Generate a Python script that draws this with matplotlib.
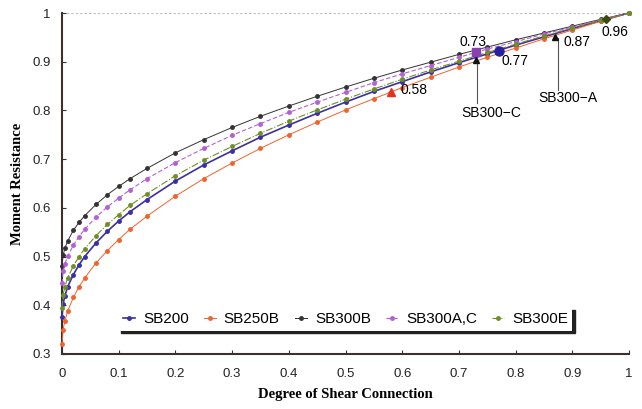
import numpy as np
import matplotlib
matplotlib.use("Agg")
import matplotlib.pyplot as plt

# degree of shear connection (eta) used for every curve
eta = [0, 0.002, 0.005, 0.01, 0.02, 0.03, 0.04, 0.06, 0.08, 0.1, 0.12, 0.15,
       0.2, 0.25, 0.3, 0.35, 0.4, 0.45, 0.5, 0.55, 0.6, 0.65, 0.7, 0.75,
       0.8, 0.85, 0.9, 0.95, 1.0]

# normalised moment resistance for each specimen group
sb200 = [0.375, 0.403, 0.419, 0.438, 0.463, 0.483, 0.500, 0.528, 0.552, 0.573,
         0.592, 0.617, 0.655, 0.688, 0.717, 0.745, 0.770, 0.794, 0.817, 0.839,
         0.859, 0.879, 0.898, 0.916, 0.934, 0.951, 0.968, 0.984, 1.000]
sb250b = [0.320, 0.350, 0.368, 0.388, 0.416, 0.438, 0.456, 0.487, 0.512, 0.535,
          0.556, 0.583, 0.624, 0.660, 0.692, 0.722, 0.750, 0.776, 0.801, 0.824,
          0.847, 0.868, 0.889, 0.909, 0.928, 0.947, 0.965, 0.983, 1.000]
sb300b = [0.480, 0.503, 0.517, 0.532, 0.554, 0.570, 0.584, 0.607, 0.627, 0.644,
          0.660, 0.681, 0.713, 0.740, 0.765, 0.788, 0.809, 0.829, 0.848, 0.866,
          0.883, 0.899, 0.915, 0.930, 0.945, 0.959, 0.973, 0.987, 1.000]
sb300ac = [0.445, 0.470, 0.484, 0.501, 0.523, 0.541, 0.556, 0.581, 0.602, 0.620,
           0.637, 0.660, 0.693, 0.722, 0.749, 0.773, 0.796, 0.817, 0.837, 0.857,
           0.875, 0.892, 0.909, 0.926, 0.941, 0.957, 0.971, 0.986, 1.000]
sb300e = [0.395, 0.422, 0.438, 0.456, 0.481, 0.500, 0.516, 0.543, 0.566, 0.586,
          0.605, 0.629, 0.666, 0.698, 0.726, 0.753, 0.778, 0.801, 0.823, 0.844,
          0.864, 0.883, 0.901, 0.919, 0.936, 0.953, 0.969, 0.985, 1.000]

labels = ["SB200", "SB250B", "SB300B", "SB300A,C", "SB300E"]

# test specimens: actual degree of shear connection and resistance
test_eta = [0.58, 0.73, 0.77, 0.96]
test_m = [0.838, 0.919, 0.923, 0.988]
tri_eta = [0.73, 0.87]
tri_m = [0.903, 0.951]

serif = ["Liberation Serif", "DejaVu Serif"]
sans = ["Liberation Sans", "DejaVu Sans"]
plt.rcParams["font.family"] = sans

fig = plt.figure(figsize=(6.42, 4.09), dpi=100)
ax = fig.add_axes([62 / 642, 1 - 354 / 409, 567 / 642, 341 / 409])

styles = [
    dict(color="#3b2fa6", lw=1.2, ls="-"),
    dict(color="#f2622a", lw=0.7, ls="-"),
    dict(color="#333333", lw=0.7, ls="-"),
    dict(color="#b35fd6", lw=0.8, ls=(0, (4, 2))),
    dict(color="#6f8f22", lw=0.8, ls="-."),
]
for ys, lab, st in zip([sb200, sb250b, sb300b, sb300ac, sb300e], labels, styles):
    ax.plot(eta, ys, marker="o", ms=2.5, mec=st["color"], mfc=st["color"],
            label=lab, clip_on=False, zorder=3, **st)

ax.axhline(1.0, color="#bbbbbb", lw=0.8, ls=(0, (2, 2)), zorder=1)

# specimen markers
ax.plot(test_eta[0], test_m[0], marker="^", ms=5.5, color="#e8301c", ls="none", zorder=5)
ax.plot(test_eta[1], test_m[1], marker="s", ms=5.5, color="#8a40b0", ls="none", zorder=5)
ax.plot(test_eta[2], test_m[2], marker="o", ms=6.5, color="#2a1f9a", ls="none", zorder=5)
ax.plot(test_eta[3], test_m[3], marker="D", ms=4.5, color="#3a4a10", ls="none", zorder=5)
ax.plot(tri_eta, tri_m, marker="^", ms=4.5, color="#111111", ls="none", zorder=6)

# leader lines for the SB300 tags
ax.plot([0.732, 0.732], [0.900, 0.815], color="#555555", lw=0.8, zorder=4)
ax.plot([0.875, 0.875], [0.948, 0.842], color="#555555", lw=0.8, zorder=4)

fs = 10
ax.text(0.621, 0.841, "0.58", fontsize=fs, ha="center", va="center")
ax.text(0.724, 0.940, "0.73", fontsize=fs, ha="center", va="center")
ax.text(0.799, 0.901, "0.77", fontsize=fs, ha="center", va="center")
ax.text(0.908, 0.941, "0.87", fontsize=fs, ha="center", va="center")
ax.text(0.975, 0.961, "0.96", fontsize=fs, ha="center", va="center")
ax.text(0.757, 0.794, "SB300\u2212C", fontsize=fs, ha="center", va="center")
ax.text(0.892, 0.826, "SB300\u2212A", fontsize=fs, ha="center", va="center")

ax.set_xlim(0, 1)
ax.set_ylim(0.3, 1.0)
xt = np.arange(0, 1.01, 0.1)
yt = np.arange(0.3, 1.01, 0.1)
ax.set_xticks(xt)
ax.set_xticklabels([f"{v:g}" for v in np.round(xt, 1)])
ax.set_yticks(yt)
ax.set_yticklabels([f"{v:g}" for v in np.round(yt, 1)])
ax.tick_params(direction="in", length=3, width=0.8, color="#333333",
               labelsize=9.5, labelcolor="#222222")
ax.tick_params(axis="x", pad=10)
ax.tick_params(axis="y", pad=8)

for side in ["top", "right"]:
    ax.spines[side].set_visible(False)
for side in ["left", "bottom"]:
    ax.spines[side].set_linewidth(1.5)
    ax.spines[side].set_color("#3a3030")

ax.set_xlabel("Degree of Shear Connection", family=serif, fontweight="bold",
              fontsize=10.5, labelpad=6)
ax.set_ylabel("Moment Resistance", family=serif, fontweight="bold",
              fontsize=10.5, labelpad=6)

leg = ax.legend(loc="lower center", bbox_to_anchor=(0.5, 0.045), ncol=5,
                fontsize=11, handlelength=0.8, handletextpad=0.5,
                columnspacing=1.0, borderpad=0.3, fancybox=False,
                framealpha=1, facecolor="white", edgecolor="none",
                shadow={"color": "#222222", "alpha": 1, "ox": 1.5, "oy": -1.5})
leg.set_zorder(10)

fig.savefig("out.png", dpi=100)
